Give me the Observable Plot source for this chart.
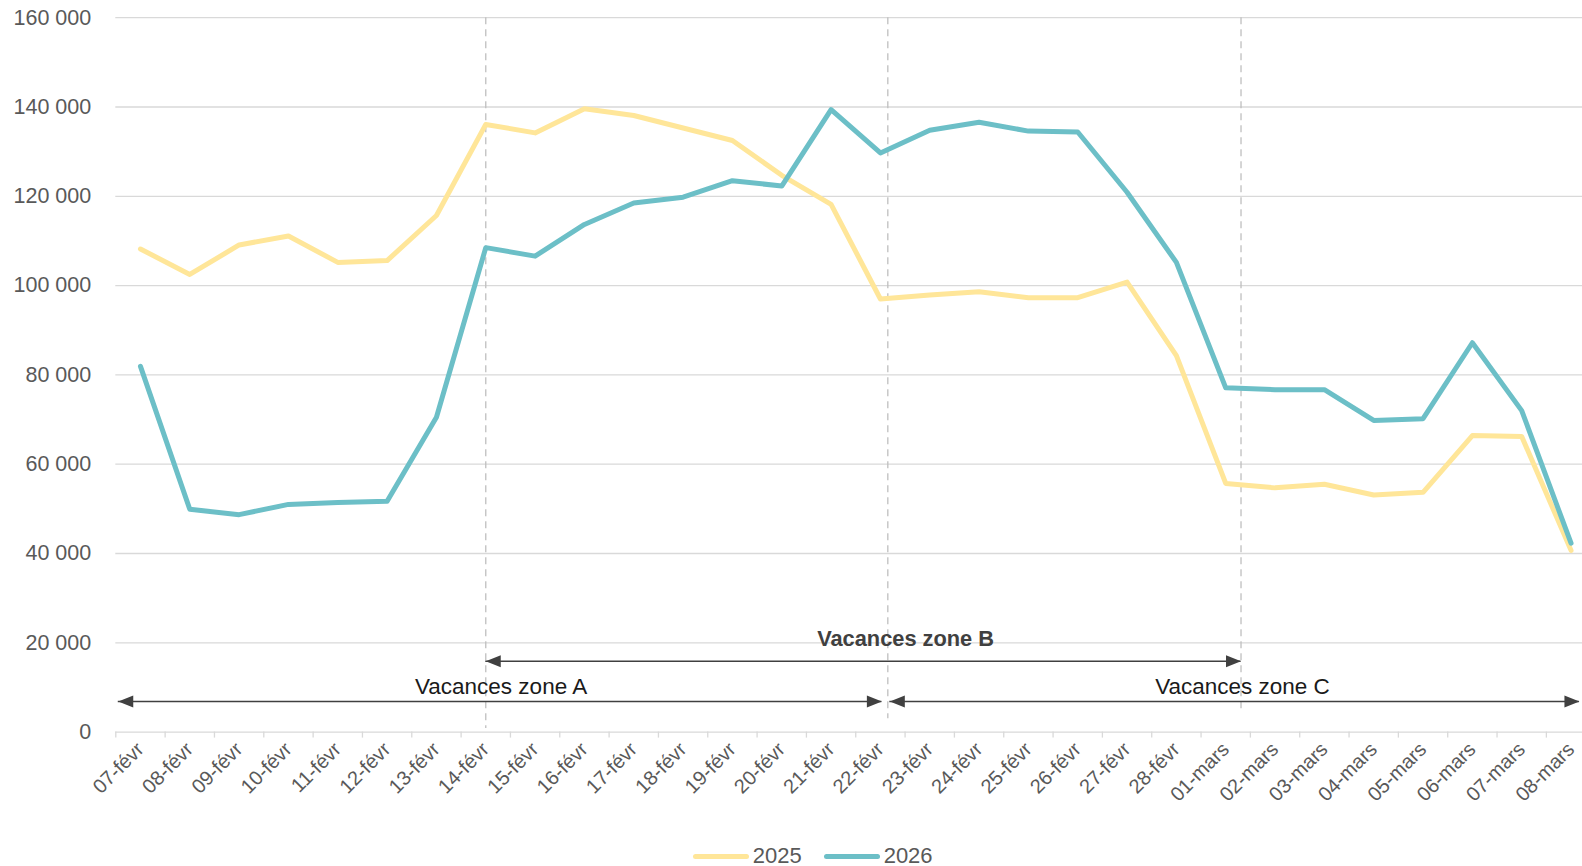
<!DOCTYPE html>
<html>
<head>
<meta charset="utf-8">
<script src="https://cdn.jsdelivr.net/npm/d3@7"></script>
<script src="https://cdn.jsdelivr.net/npm/@observablehq/plot@0.6"></script>
<style>
  html, body { margin: 0; padding: 0; overflow: hidden; background: #fff; }
  body { font-family: "Liberation Sans", Arial, sans-serif; width: 1582px; height: 866px; }
  #chart svg { display: block; }
  #legend { height: 52px; display: flex; align-items: center; padding-left: 692.7px; box-sizing: border-box; }
  .item { display: flex; align-items: center; margin-right: 22px; }
  .sw { display: inline-block; width: 56px; height: 5px; border-radius: 3px; margin-right: 4px; }
  .lb { font-size: 22px; color: #595959; line-height: 24px; }
</style>
</head>
<body>
<div id="chart"></div>
<div id="legend"></div>
<script>
// ---- data ----
const dates = ["07-févr","08-févr","09-févr","10-févr","11-févr","12-févr","13-févr","14-févr","15-févr","16-févr",
  "17-févr","18-févr","19-févr","20-févr","21-févr","22-févr","23-févr","24-févr","25-févr","26-févr",
  "27-févr","28-févr","01-mars","02-mars","03-mars","04-mars","05-mars","06-mars","07-mars","08-mars"];
const values2025 = [108200,102500,109100,111100,105200,105600,115700,136100,134200,139600,
  138100,135300,132500,124700,118200,97000,97900,98600,97300,97300,
  100800,84300,55700,54700,55500,53100,53700,66400,66200,40700];
const values2026 = [81900,49900,48700,51000,51400,51700,70500,108500,106600,113700,
  118500,119800,123500,122300,139400,129700,134800,136600,134600,134400,
  120900,105200,77100,76700,76700,69800,70200,87200,72000,42300];
const seriesNames = ["2025", "2026"];
const seriesColors = ["#FFE699", "#6CBFC7"];
const yTicks = [0, 20000, 40000, 60000, 80000, 100000, 120000, 140000, 160000];
const zoneNames = ["Vacances zone A", "Vacances zone B", "Vacances zone C"];

// ---- build tables ----
const seriesValues = [values2025, values2026];
const rows = seriesNames.flatMap((s, k) => seriesValues[k].map((v, i) => ({i, v, s})));
const fmt = d3.formatLocale({decimal: ",", thousands: "\u00a0", grouping: [3], currency: ["", "€"]}).format(",");

// annotation geometry (index units on x, value units on y)
const zoneArrows = [
  {x1: -0.45, x2: 15.03, y: 6850},
  {x1: 7.0,   x2: 22.31, y: 15880},
  {x1: 15.19, x2: 29.17, y: 6850}
];
const zoneText = [
  {x: 7.31,  y: 8580,  bold: false},
  {x: 15.51, y: 19240, bold: true},
  {x: 22.34, y: 8580,  bold: false}
].map((d, k) => ({...d, label: zoneNames[k]}));
const dashed = [{x: 7.0, y2: 800}, {x: 15.15, y2: 3000}, {x: 22.31, y2: 4200}];
const heads = zoneArrows.flatMap(a => [{x: a.x1, y: a.y, r: 180}, {x: a.x2, y: a.y, r: 0}]);
const arrowHead = {draw(ctx) { ctx.moveTo(0, 0); ctx.lineTo(-15, -6); ctx.lineTo(-15, 6); ctx.closePath(); }};

const idx = d3.range(dates.length);
const bounds = d3.range(dates.length + 1).map(k => k - 0.5);
const left = 115.3, band = 49.33;

const chart = Plot.plot({
  width: 1582,
  height: 830,
  marginLeft: left,
  marginRight: 0,
  marginTop: 17.2,
  marginBottom: 98.4,
  style: {fontFamily: "'Liberation Sans', Arial, sans-serif", background: "white", color: "#595959", overflow: "visible"},
  x: {type: "linear", domain: [-0.5, dates.length - 0.5], range: [left, left + dates.length * band], label: null},
  y: {domain: [0, 160000], label: null},
  color: {domain: seriesNames, range: seriesColors},
  marks: [
    Plot.ruleY(yTicks, {stroke: "#d9d9d9", strokeWidth: 1.3}),
    Plot.axisY({ticks: yTicks, tickSize: 0, tickPadding: 24.6, tickFormat: fmt, fontSize: 21.5, fill: "#595959"}),
    Plot.axisX({ticks: bounds, tickSize: 6, tickFormat: () => "", stroke: "#d9d9d9", strokeWidth: 1.3}),
    Plot.axisX({ticks: idx, tickSize: 0, tickPadding: 14, tickRotate: -45, tickFormat: i => dates[i], fontSize: 20, fill: "#595959"}),
    Plot.ruleX(dashed, {x: "x", y1: 160000, y2: "y2", stroke: "#bfbfbf", strokeWidth: 1.3, strokeDasharray: "7,5"}),
    Plot.line(rows, {x: "i", y: "v", z: "s", stroke: "s", strokeWidth: 5, strokeLinejoin: "round", strokeLinecap: "round"}),
    Plot.ruleY(zoneArrows, {x1: "x1", x2: "x2", y: "y", stroke: "#404040", strokeWidth: 1.5}),
    Plot.dot(heads, {x: "x", y: "y", rotate: "r", symbol: arrowHead, fill: "#404040", stroke: "none", r: 6}),
    Plot.text(zoneText.filter(d => !d.bold), {x: "x", y: "y", text: "label", lineAnchor: "bottom", fontSize: 22.5, fill: "#1a1a1a"}),
    Plot.text(zoneText.filter(d => d.bold), {x: "x", y: "y", text: "label", lineAnchor: "bottom", fontSize: 21.8, fontWeight: "bold", fill: "#404040"})
  ]
});
document.getElementById("chart").appendChild(chart);

const legend = document.getElementById("legend");
seriesNames.forEach((s, k) => {
  const it = document.createElement("div");
  it.className = "item";
  it.innerHTML = `<span class="sw" style="background:${seriesColors[k]}"></span><span class="lb">${s}</span>`;
  legend.appendChild(it);
});
</script>
</body>
</html>
